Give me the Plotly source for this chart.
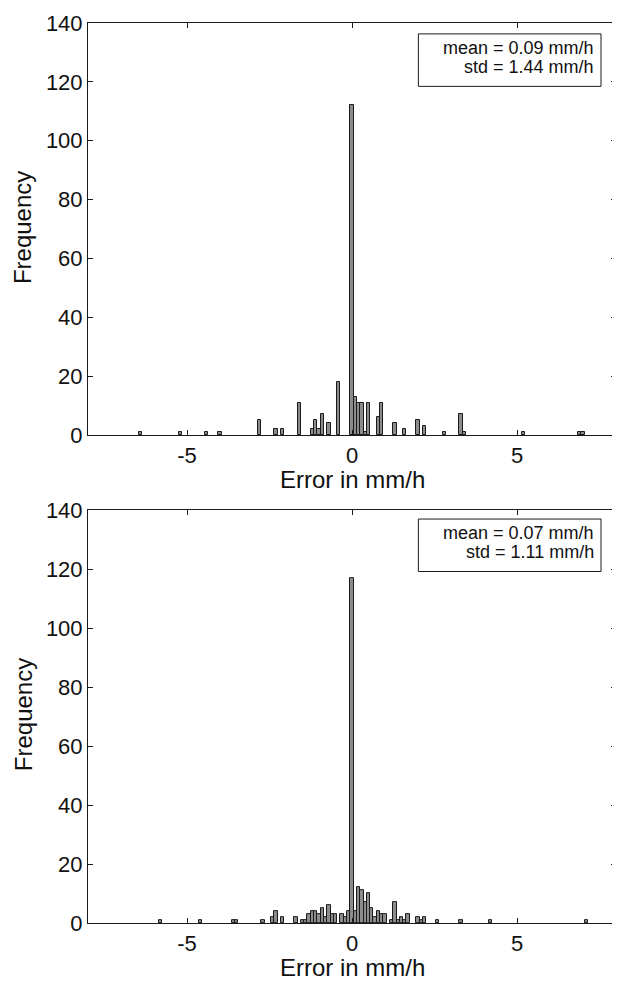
import plotly.graph_objects as go

# Top histogram (error in mm/h): bin centres and counts
top_x = [-6.4, -5.2, -4.4, -4.0, -2.8, -2.3, -2.1, -1.6, -1.2, -1.1, -1.0, -0.9, -0.7, -0.4,
         0.0, 0.1, 0.2, 0.3, 0.4, 0.5, 0.8, 0.9, 1.3, 1.6, 2.0, 2.2, 2.8, 3.3, 3.4, 5.2, 6.9, 7.0]
top_y = [1, 1, 1, 1, 5, 2, 2, 11, 2, 5, 2, 7, 4, 18,
         112, 13, 11, 11, 1, 11, 6, 11, 4, 2, 5, 3, 1, 7, 1, 1, 1, 1]

# Bottom histogram
bot_x = [-5.8, -4.6, -3.6, -3.5, -2.7, -2.4, -2.3, -2.1, -1.7, -1.5, -1.4, -1.3, -1.2, -1.1,
         -1.0, -0.9, -0.8, -0.7, -0.6, -0.5, -0.3, -0.2, -0.1, 0.0, 0.1, 0.2, 0.3, 0.4, 0.5,
         0.6, 0.7, 0.8, 0.9, 1.0, 1.2, 1.3, 1.4, 1.5, 1.6, 1.7, 2.0, 2.1, 2.2, 2.6, 3.3, 4.2, 7.1]
bot_y = [1, 1, 1, 1, 1, 2, 4, 2, 2, 1, 1, 3, 4, 4,
         3, 5, 2, 6, 3, 3, 3, 2, 4, 117, 4, 12, 11, 7, 10,
         5, 2, 4, 3, 3, 1, 7, 1, 2, 1, 3, 2, 1, 2, 1, 1, 1, 1]

stats_top = ["mean = 0.09 mm/h", "std = 1.44 mm/h"]
stats_bot = ["mean = 0.07 mm/h", "std = 1.11 mm/h"]

x_tickvals = [-5, 0, 5]
x_ticktext = ["-5", "0", "5"]
y_tickvals = [0, 20, 40, 60, 80, 100, 120, 140]
bin_width = 0.1

FONT = "Liberation Sans, Arial, Helvetica, sans-serif"
OFF = 8  # page body margin
W, H = 620 - OFF, 982 - OFF
L, R, T, B = 80, 3, 6, 59
PW, PH = W - L - R, H - T - B


def py(screen_y):
    return (H - B - (screen_y - OFF)) / PH


def px(screen_x):
    return (screen_x - OFF - L) / PW


fig = go.Figure()
bar_style = dict(marker=dict(color="#8c8c8c", line=dict(color="#1a1a1a", width=1)),
                 width=bin_width, showlegend=False, hoverinfo="x+y")
fig.add_trace(go.Bar(x=top_x, y=top_y, xaxis="x", yaxis="y", **bar_style))
fig.add_trace(go.Bar(x=bot_x, y=bot_y, xaxis="x2", yaxis="y2", **bar_style))

axis_common = dict(showline=True, linecolor="#1a1a1a", linewidth=1, mirror="allticks",
                   ticks="inside", ticklen=5, tickcolor="#1a1a1a", showgrid=False,
                   zeroline=False, tickfont=dict(family=FONT, size=22, color="#111"))

fig.update_layout(
    width=W, height=H,
    margin=dict(l=L, r=R, t=T, b=B),
    paper_bgcolor="white", plot_bgcolor="white",
    bargap=0,
    xaxis=dict(domain=[0, 1], anchor="y", range=[-8, 8], tickvals=x_tickvals,
               ticktext=x_ticktext, ticklabelstandoff=1, **axis_common),
    yaxis=dict(domain=[py(430), 1], anchor="x", range=[0, 140], tickvals=y_tickvals, **axis_common),
    xaxis2=dict(domain=[0, 1], anchor="y2", range=[-8, 8], tickvals=x_tickvals,
                ticktext=x_ticktext, ticklabelstandoff=1, **axis_common),
    yaxis2=dict(domain=[0, py(506)], anchor="x2", range=[0, 140], tickvals=y_tickvals, **axis_common),
)

ann = []
for xt_y, yt_y in [(475, 221), (968, 713)]:
    ann.append(dict(text="Error in mm/h", x=px(353), y=py(xt_y), xref="paper", yref="paper",
                    xanchor="center", yanchor="middle", showarrow=False,
                    font=dict(family=FONT, size=24, color="#111")))
    ann.append(dict(text="Frequency", x=px(23), y=py(yt_y), xref="paper", yref="paper",
                    xanchor="center", yanchor="middle", textangle=-90, showarrow=False,
                    font=dict(family=FONT, size=24, color="#111")))

for stats, top in [(stats_top, 25), (stats_bot, 515)]:
    fig.add_shape(type="rect", xref="paper", yref="paper", x0=px(419), x1=px(602),
                  y0=py(top + 53), y1=py(top), line=dict(color="#1a1a1a", width=1),
                  fillcolor="white")
    for i, line in enumerate(stats):
        ann.append(dict(text=line, x=px(597), y=py(top + 14 + 19 * i), xref="paper",
                        yref="paper", xanchor="right", yanchor="middle", align="right",
                        showarrow=False, font=dict(family=FONT, size=18, color="#111")))

fig.update_layout(annotations=ann)
fig.write_html("out.html")
